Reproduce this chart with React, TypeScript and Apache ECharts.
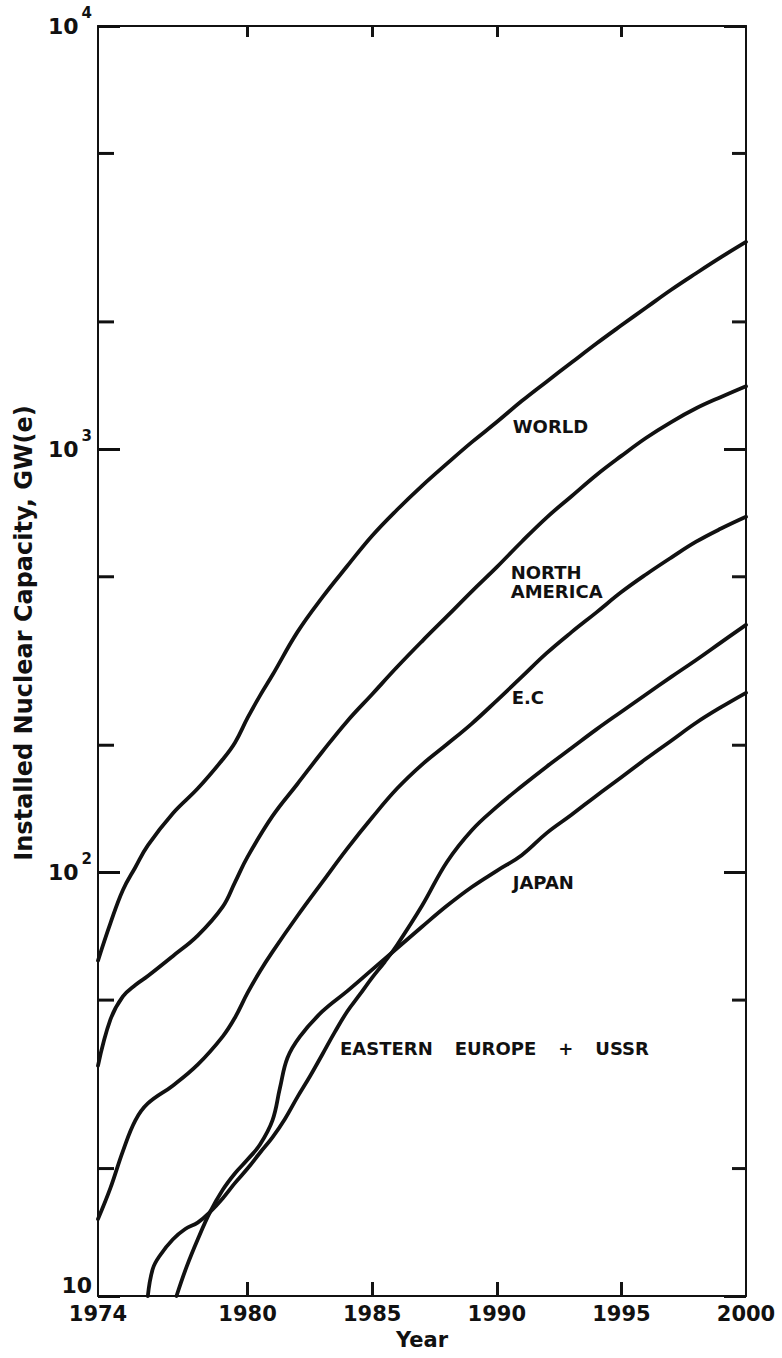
import React, { useEffect, useRef } from 'react';
import * as echarts from 'echarts';

type Pt = [number, number];

// Installed nuclear capacity, GW(e), by year
const worldCapacity: Pt[] = [
  [1974, 62], [1974.5, 76], [1975, 91], [1975.5, 103], [1976, 116], [1977, 138],
  [1978, 158], [1979, 185], [1979.5, 203], [1980, 232], [1980.5, 262], [1981, 293],
  [1982, 370], [1983, 447], [1984, 530], [1985, 625], [1986, 720], [1987, 820],
  [1988, 925], [1989, 1040], [1990, 1160], [1991, 1300], [1992, 1445], [1993, 1603],
  [1994, 1778], [1995, 1963], [1996, 2163], [1997, 2382], [1998, 2606], [1999, 2844],
  [2000, 3090],
];

const northAmericaCapacity: Pt[] = [
  [1974, 35], [1974.5, 45], [1975, 51], [1975.5, 54.3], [1976, 57], [1977, 63.5],
  [1978, 71], [1979, 83], [1979.5, 95], [1980, 109], [1981, 136], [1982, 162],
  [1983, 193], [1984, 228], [1985, 264], [1986, 306], [1987, 352], [1988, 403],
  [1989, 462], [1990, 527], [1991, 605], [1992, 690], [1993, 775], [1994, 870],
  [1995, 965], [1996, 1065], [1997, 1160], [1998, 1250], [1999, 1330], [2000, 1410],
];

const ecCapacity: Pt[] = [
  [1974, 15.2], [1974.5, 18], [1975, 22], [1975.5, 26], [1976, 28.5], [1977, 31.4],
  [1978, 35.2], [1979, 41], [1979.5, 45.5], [1980, 52], [1980.5, 58.5], [1981, 65],
  [1982, 79], [1983, 95], [1984, 114], [1985, 135], [1986, 158], [1987, 180],
  [1988, 201], [1989, 225], [1990, 255], [1991, 290], [1992, 330], [1993, 370],
  [1994, 412], [1995, 460], [1996, 507], [1997, 555], [1998, 605], [1999, 650],
  [2000, 693],
];

const japanCapacity: Pt[] = [
  [1977.15, 10], [1977.55, 11.7], [1978, 13.6], [1978.5, 15.8], [1979, 17.8],
  [1979.5, 19.5], [1980, 21], [1980.5, 22.8], [1981, 26], [1981.3, 31], [1981.6, 36.5],
  [1982.1, 41], [1983, 47], [1984, 52.5], [1985, 59], [1986, 66.3], [1987, 74.5],
  [1988, 83.5], [1989, 92.5], [1990, 101], [1991, 110], [1992, 124], [1993, 137],
  [1994, 152], [1995, 168], [1996, 186], [1997, 205], [1998, 226], [1999, 246],
  [2000, 266],
];

const easternEuropeCapacity: Pt[] = [
  [1976, 10], [1976.2, 11.6], [1976.5, 12.5], [1977, 13.6], [1977.5, 14.4], [1978, 14.9],
  [1978.5, 15.8], [1979, 17], [1979.5, 18.5], [1980, 20], [1980.5, 21.8], [1981, 23.7],
  [1981.5, 26.2], [1982, 29.5], [1982.5, 33], [1983, 37.2], [1983.5, 42], [1984, 47],
  [1984.5, 51.5], [1985, 56.5], [1985.5, 61.5], [1986, 67.5], [1987, 83.5], [1988, 106],
  [1989, 126], [1990, 143], [1991, 160], [1992, 178], [1993, 197], [1994, 218],
  [1995, 240], [1996, 264], [1997, 290], [1998, 318], [1999, 350], [2000, 385],
];

// Axis labelling
const yearLabels = [1974, 1980, 1985, 1990, 1995, 2000];
const yearTicks = [1980, 1985, 1990, 1995];
const minorCapacityTicks = [20, 50, 200, 500, 2000, 5000];

// Curve names, anchored at [year, GW(e)]
const curveLabels = [
  { name: 'WORLD', value: [1990.64, 1133] },
  { name: 'NORTH\nAMERICA', value: [1990.56, 487] },
  { name: 'E.C', value: [1990.6, 259] },
  { name: 'JAPAN', value: [1990.64, 95] },
  { name: 'EASTERN EUROPE + USSR', value: [1983.71, 38.5] },
];

const FONT = 'DejaVu Sans';
const INK = '#111111';
// one near-black shade per frame side
const SIDE_INK = { left: '#0f0f0f', right: '#121212', top: '#131313', bottom: '#141414' };

// Wide word gaps, as lettered on the drawing
const spacedWords = (text: string) =>
  text
    .split('\n')
    .map((line) => line.split(' ').map((w) => `{t|${w}}`).join('{gap| }'))
    .join('\n');

function buildOption() {
  const labelFont = () => ({ color: INK, fontFamily: FONT, fontWeight: 'bold' as const });
  const frameLine = () => ({ show: true, onZero: false, lineStyle: { color: INK, width: 2 } });
  const tick = (length: number, color: string, extra: object = {}) => ({
    show: true,
    inside: true,
    length,
    lineStyle: { color, width: 3 },
    ...extra,
  });

  const curve = (name: string, data: Pt[]) => ({
    type: 'line',
    name,
    data,
    showSymbol: false,
    smooth: 0.4,
    silent: true,
    z: 3,
    lineStyle: { color: INK, width: 3.8, cap: 'round', join: 'round' },
  });

  // 2x and 5x ticks along a side frame
  const sideTicks = (x: number, len: number, dir: number, color: string) => ({
    type: 'scatter',
    data: minorCapacityTicks.map((v) => [x, v]),
    symbol: 'rect',
    symbolSize: [len, 3],
    symbolOffset: [(dir * len) / 2, 0],
    itemStyle: { color, opacity: 1 },
    clip: false,
    silent: true,
    z: 10,
  });

  return {
    animation: false,
    backgroundColor: '#fff',
    grid: { left: 98, right: 36, top: 26, bottom: 62, outerBoundsMode: 'none' },
    xAxis: [
      {
        type: 'value',
        min: 1974,
        max: 2000,
        position: 'bottom',
        axisLine: frameLine(),
        axisTick: tick(14, SIDE_INK.bottom, { customValues: yearTicks }),
        axisLabel: {
          show: true,
          customValues: yearLabels,
          formatter: (v: number) => String(v),
          fontSize: 21,
          margin: 7,
          ...labelFont(),
        },
        splitLine: { show: false },
        name: 'Year',
        nameLocation: 'middle',
        nameGap: 33,
        nameTextStyle: { fontSize: 21, ...labelFont() },
      },
      {
        type: 'value',
        min: 1974,
        max: 2000,
        position: 'top',
        axisLine: frameLine(),
        axisTick: tick(11, SIDE_INK.top, { customValues: yearTicks }),
        axisLabel: { show: false },
        splitLine: { show: false },
      },
    ],
    yAxis: [
      {
        type: 'log',
        logBase: 10,
        min: 10,
        max: 10000,
        position: 'left',
        axisLine: frameLine(),
        axisTick: tick(22, SIDE_INK.left),
        minorTick: { show: false },
        splitLine: { show: false },
        axisLabel: {
          show: true,
          margin: 6,
          formatter: (v: number) =>
            v <= 10 ? '{low|10}' : `{base|10}{sup|${Math.round(Math.log10(v))}}`,
          rich: {
            base: { fontSize: 22, lineHeight: 22, verticalAlign: 'bottom', ...labelFont() },
            sup: { fontSize: 15, lineHeight: 15, verticalAlign: 'bottom', padding: [0, 0, 17, 3], ...labelFont() },
            low: { fontSize: 22, lineHeight: 22, padding: [0, 0, 22, 0], ...labelFont() },
          },
        },
        name: 'Installed Nuclear Capacity, GW(e)',
        nameLocation: 'middle',
        nameRotate: 90,
        nameGap: 62,
        nameTextStyle: { fontSize: 24, padding: [0, 0, 0, 56], ...labelFont() },
      },
      {
        type: 'log',
        logBase: 10,
        min: 10,
        max: 10000,
        position: 'right',
        axisLine: frameLine(),
        axisTick: tick(22, SIDE_INK.right),
        minorTick: { show: false },
        splitLine: { show: false },
        axisLabel: { show: false },
      },
    ],
    series: [
      curve('WORLD', worldCapacity),
      curve('NORTH AMERICA', northAmericaCapacity),
      curve('E.C', ecCapacity),
      curve('JAPAN', japanCapacity),
      curve('EASTERN EUROPE + USSR', easternEuropeCapacity),
      sideTicks(1974, 16, 1, '#101010'),
      sideTicks(2000, 14, -1, '#161616'),
      {
        type: 'scatter',
        data: curveLabels,
        symbolSize: 0,
        silent: true,
        itemStyle: { opacity: 1 },
        label: {
          show: true,
          position: 'right',
          distance: 0,
          formatter: (p: { name: string }) => spacedWords(p.name),
          align: 'left',
          lineHeight: 19,
          rich: {
            t: { fontSize: 18, lineHeight: 19, ...labelFont() },
            gap: { fontSize: 18, lineHeight: 19, width: 22, ...labelFont() },
          },
          ...labelFont(),
          fontSize: 18,
        },
      },
    ],
  };
}

export default function App() {
  const ref = useRef<HTMLDivElement>(null);

  useEffect(() => {
    if (!ref.current) return;
    const chart = echarts.init(ref.current, null, { renderer: 'svg' });
    chart.setOption(buildOption() as any);
    return () => chart.dispose();
  }, []);

  return (
    <div style={{ position: 'fixed', left: 0, top: 0, width: 782, height: 1358, background: '#fff' }}>
      <div ref={ref} style={{ width: 782, height: 1358 }} />
    </div>
  );
}
